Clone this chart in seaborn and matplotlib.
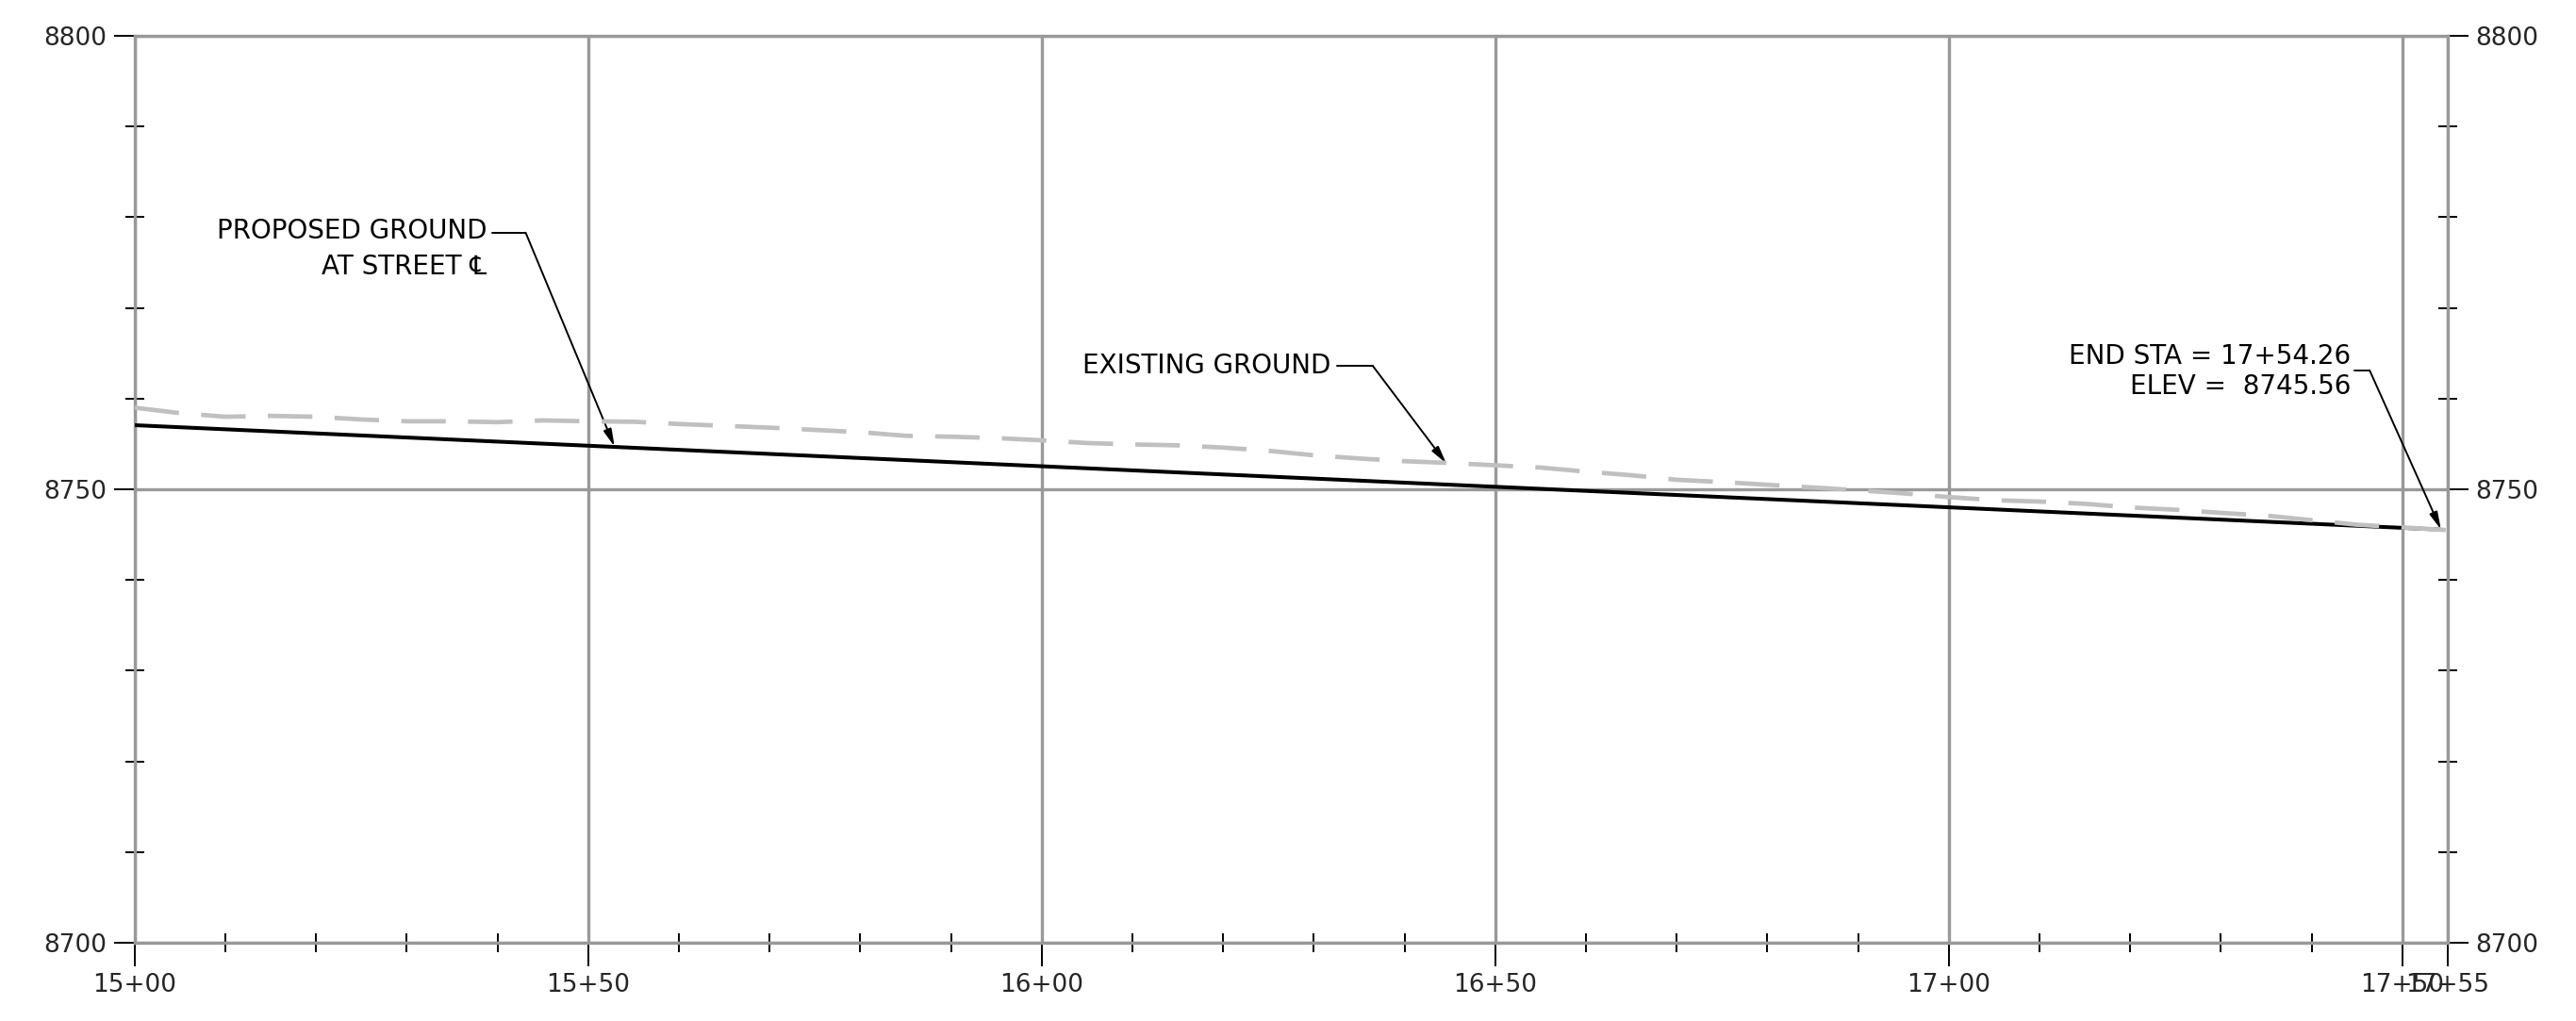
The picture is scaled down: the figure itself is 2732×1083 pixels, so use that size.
import matplotlib
matplotlib.use('Agg')
import matplotlib.pyplot as plt
import pandas as pd
import seaborn as sns
from matplotlib.ticker import FixedLocator, FuncFormatter

# existing ground, every 5 ft
exist_sta = [1500, 1505, 1510, 1515, 1520, 1525, 1530, 1535, 1540, 1545,
             1550, 1555, 1560, 1565, 1570, 1575, 1580, 1585, 1590, 1595,
             1600, 1605, 1610, 1615, 1620, 1625, 1630, 1635, 1640, 1645,
             1650, 1655, 1660, 1665, 1670, 1675, 1680, 1685, 1690, 1695,
             1700, 1705, 1710, 1715, 1720, 1725, 1730, 1735, 1740, 1745,
             1750, 1755]
exist_elev = [8759.0, 8758.4, 8758.0, 8758.1, 8758.0, 8757.7, 8757.5, 8757.5, 8757.4, 8757.6,
              8757.5, 8757.45, 8757.2, 8757.0, 8756.8, 8756.55, 8756.3, 8755.9, 8755.8, 8755.65,
              8755.4, 8755.1, 8754.95, 8754.85, 8754.6, 8754.25, 8753.75, 8753.4, 8753.1, 8752.9,
              8752.65, 8752.4, 8751.95, 8751.55, 8751.05, 8750.8, 8750.5, 8750.2, 8749.9, 8749.55,
              8749.15, 8748.8, 8748.65, 8748.4, 8748.0, 8747.75, 8747.4, 8747.1, 8746.6, 8746.1,
              8745.8, 8745.5]

# proposed ground at street centerline (straight grade)
end_sta = 1754.26
end_elev = 8745.56
prop_sta = [1500, end_sta]
prop_elev = [8757.07, end_elev]

major_sta = [1500, 1550, 1600, 1650, 1700, 1750, 1755]
minor_sta = [s for s in range(1510, 1750, 10) if s % 50]
major_elev = [8700, 8750, 8800]
minor_elev = [e for e in range(8710, 8800, 10) if e % 50]

GRID = '#999999'
EXIST = '#c0c0c0'


def sta_fmt(x, pos=None):
    x = int(round(x))
    return f"{x // 100}+{x % 100:02d}"


sns.set_style('white')
plt.rcParams['font.family'] = ['DejaVu Sans']
plt.rcParams['lines.scale_dashes'] = False

df_exist = pd.DataFrame({'sta': exist_sta, 'elev': exist_elev})
df_prop = pd.DataFrame({'sta': prop_sta, 'elev': prop_elev})

fig = plt.figure(figsize=(27.32, 10.83), dpi=100)
ax = fig.add_axes([0.0523, 0.0766, 0.8979, 0.8883])

sns.lineplot(data=df_prop, x='sta', y='elev', ax=ax, color='black', linewidth=2.9, zorder=3)
sns.lineplot(data=df_exist, x='sta', y='elev', ax=ax, color=EXIST, linewidth=3.4,
             linestyle=(0, (34, 17)), zorder=4)

ax.set_xlim(1500, 1755)
ax.set_ylim(8700, 8800)
ax.set_xlabel('')
ax.set_ylabel('')

ax.xaxis.set_major_locator(FixedLocator(major_sta))
ax.xaxis.set_minor_locator(FixedLocator(minor_sta))
ax.xaxis.set_major_formatter(FuncFormatter(sta_fmt))
ax.yaxis.set_major_locator(FixedLocator(major_elev))
ax.yaxis.set_minor_locator(FixedLocator(minor_elev))

ax.grid(True, which='major', color=GRID, linewidth=2.4, zorder=1)
ax.set_axisbelow(True)
for sp in ax.spines.values():
    sp.set_color(GRID)
    sp.set_linewidth(2.4)

ax.tick_params(axis='x', which='major', direction='out', length=18, width=1.4,
               color='black', labelsize=19, pad=5, top=False, bottom=True)
ax.tick_params(axis='x', which='minor', direction='inout', length=14, width=1.4,
               color='black', top=False, bottom=True)
ax.tick_params(axis='y', which='major', direction='out', length=16, width=1.4,
               color='black', labelsize=19, pad=5, left=True, right=True,
               labelleft=True, labelright=True)
ax.tick_params(axis='y', which='minor', direction='inout', length=14, width=1.4,
               color='black', left=True, right=True)

# callouts
lead = dict(arrowstyle='-|>,head_length=0.55,head_width=0.13', color='black',
            lw=1.4, mutation_scale=20, shrinkA=0, shrinkB=0)
tfont = dict(fontsize=20, color='black')

ax.text(1538.8, 8778.5, 'PROPOSED GROUND', ha='right', va='center', **tfont)
ax.text(1538.8, 8774.5, 'AT STREET \u2104', ha='right', va='center', **tfont)
ax.plot([1539.4, 1543.1], [8778.3, 8778.3], color='black', lw=1.4)
ax.annotate('', xy=(1552.9, 8754.7), xytext=(1543.1, 8778.3), arrowprops=lead)

ax.text(1631.9, 8763.6, 'EXISTING GROUND', ha='right', va='center', **tfont)
ax.plot([1632.6, 1636.5], [8763.6, 8763.6], color='black', lw=1.4)
ax.annotate('', xy=(1644.6, 8752.85), xytext=(1636.5, 8763.6), arrowprops=lead)

ax.text(1744.3, 8764.7, f'END STA = {sta_fmt(int(end_sta))}.{round(end_sta % 1 * 100):02d}',
        ha='right', va='center', **tfont)
ax.text(1744.3, 8761.3, f'ELEV =  {end_elev:.2f}', ha='right', va='center', **tfont)
ax.plot([1744.7, 1746.4], [8763.1, 8763.1], color='black', lw=1.4)
ax.annotate('', xy=(end_sta, end_elev), xytext=(1746.4, 8763.1), arrowprops=lead)

fig.savefig('out.png', dpi=100, facecolor='white')
